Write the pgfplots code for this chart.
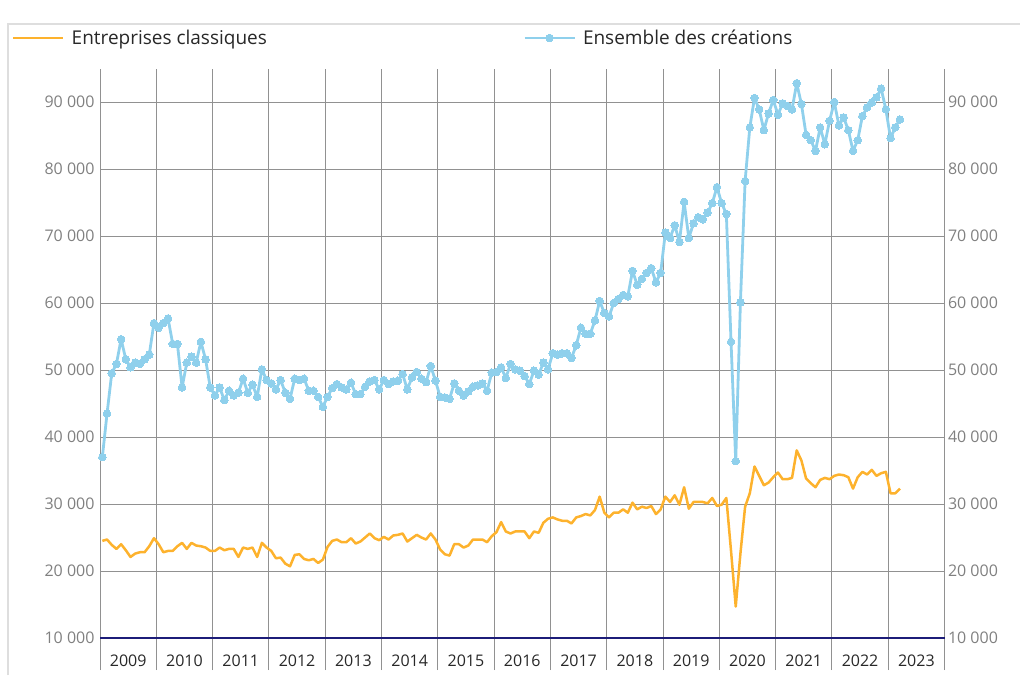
\documentclass[border=0pt]{standalone}
\usepackage{fontspec}
\setmainfont{Open Sans}
\usepackage{pgfplots}
\usepackage{pgfplotstable}
\pgfplotsset{compat=1.18}
\definecolor{orangeL}{RGB}{253,178,45}
\definecolor{blueL}{RGB}{143,208,236}
\definecolor{gridc}{RGB}{145,145,145}
\definecolor{navyL}{RGB}{28,28,120}
\definecolor{tickc}{RGB}{128,128,128}
\definecolor{textc}{RGB}{40,40,40}
\definecolor{framec}{RGB}{222,222,222}

\pgfplotstableread{
v
24500
24700
23900
23300
24000
23100
22100
22600
22800
22800
23700
24900
24000
22800
23000
23000
23700
24200
23300
24200
23800
23700
23500
23000
23000
23500
23100
23300
23300
22100
23500
23300
23500
22100
24200
23500
23000
21900
22000
21100
20700
22400
22500
21800
21600
21800
21200
21700
23600
24500
24700
24300
24300
24900
24100
24400
25000
25600
24900
24600
25100
24700
25300
25400
25600
24400
24900
25400
25000
24700
25600
24700
23200
22500
22300
24000
24000
23500
23800
24700
24700
24700
24300
25200
25800
27300
25900
25600
25900
25900
25900
24900
25900
25700
27200
27800
28000
27700
27500
27500
27100
28000
28200
28500
28300
29100
31100
28700
28000
28700
28700
29200
28700
30200
29200
29600
29400
29700
28500
29200
31100
30300
31300
29900
32500
29300
30300
30300
30300
30100
30900
29700
29900
30900
23000
14700
22600
29600
31600
35600
34200
32800
33200
34000
34700
33700
33700
33900
38000
36500
33800
33100
32500
33600
33900
33700
34200
34400
34300
34000
32300
34000
34800
34400
35100
34200
34600
34800
31600
31600
32300
}\classiques

\pgfplotstableread{
v
37000
43500
49500
50900
54600
51600
50400
51100
50900
51600
52300
57000
56300
57000
57700
53900
53900
47400
51100
52000
51100
54200
51600
47400
46200
47400
45500
46900
46200
46600
48700
46600
47800
46000
50100
48500
48000
47100
48500
46600
45700
48700
48500
48700
46900
46900
46000
44500
46000
47300
47900
47400
47100
48100
46400
46400
47500
48300
48500
47100
48500
47900
48300
48400
49400
47100
48900
49700
48700
48200
50600
48400
46000
45900
45700
48000
46900
46200
46800
47500
47700
48000
46900
49600
49700
50400
48800
50900
50100
49900
49100
47900
49900
49300
51100
50100
52500
52300
52500
52500
51800
53700
56300
55400
55400
57400
60300
58500
58000
60000
60600
61200
61000
64800
62700
63600
64500
65200
63100
64500
70500
69700
71600
69100
75100
69700
71900
72800
72500
73500
74900
77300
74900
73300
54200
36400
60100
78200
86200
90600
88900
85800
88300
90300
88100
89800
89400
88900
92800
89700
85100
84300
82700
86200
83700
87200
90000
86500
87700
85800
82700
84300
87900
89200
89900
90700
92000
88900
84600
86200
87400
}\ensemble

\pgfplotsset{
  common/.style={
    at={(100pt,-638pt)}, anchor=south west,
    scale only axis, width=844.5pt, height=569.5pt,
    xmin=0, xmax=180, ymin=10000, ymax=95000,
    axis line style={draw=none},
    scaled y ticks=false,
    /pgf/number format/.cd, 1000 sep={\ }, assume math mode=true, /pgfplots/.cd,
    tick label style={font=\fontsize{16}{19}\selectfont},
    yticklabel style={text=tickc},
    major tick length=0pt,
    legend style={draw=none, fill=none, inner sep=0pt, font=\fontsize{19}{23}\selectfont, text=textc, anchor=west},
  },
}

\begin{document}
\begin{tikzpicture}
\useasboundingbox (0pt,0pt) rectangle (1020pt,-675pt);
\draw[framec, line width=2pt] (8pt,-675pt) -- (8pt,-24pt) -- (1020pt,-24pt);

\begin{axis}[common,
  xtick={6,18,...,174},
  xticklabels={2009,2010,2011,2012,2013,2014,2015,2016,2017,2018,2019,2020,2021,2022,2023},
  xticklabel style={anchor=base, yshift=-28pt, text=textc},
  minor xtick={0,12,...,180},
  xminorgrids=true,
  minor tick length=32pt,
  tick align=outside,
  xtick pos=left,
  ytick pos=left,
  ytick={20000,30000,...,90000},
  ymajorgrids=true,
  extra y ticks={10000},
  extra y tick style={ymajorgrids=true, major grid style={navyL, line width=2pt}},
  yticklabel style={xshift=-2pt},
  major grid style={gridc, line width=1pt},
  minor grid style={gridc, line width=1pt},
  minor tick style={gridc, line width=1pt},
  legend style={at={(-0.1042,1.0536)}},
  legend image code/.code={\draw[#1] (0pt,0pt) -- (50pt,0pt); \path (55pt,0pt);},
]
\addplot[orangeL, line width=2.5pt, line join=round] table[x expr=\coordindex+0.5, y=v] {\classiques};
\addlegendentry{Entreprises classiques}
\end{axis}

\begin{axis}[common,
  xtick=\empty,
  ytick={10000,20000,...,90000},
  ytick pos=right, yticklabel pos=right,
  legend style={at={(0.5009,1.0536)}},
  legend image code/.code={\draw[mark repeat=2,mark phase=2,#1] plot coordinates {(0pt,0pt) (25pt,0pt) (50pt,0pt)}; \path (55pt,0pt);},
]
\addplot[blueL, line width=2.8pt, line join=round, mark=*, mark size=3.8pt, mark options={fill=blueL, draw=blueL, line width=0pt}] table[x expr=\coordindex+0.5, y=v] {\ensemble};
\addlegendentry{Ensemble des créations}
\end{axis}
\end{tikzpicture}
\end{document}
